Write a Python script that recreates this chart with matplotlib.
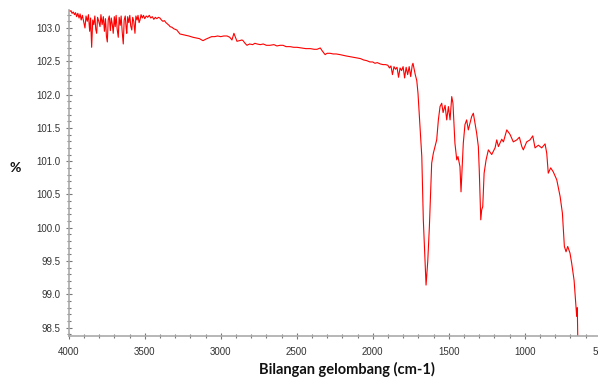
import matplotlib
matplotlib.use("Agg")
import matplotlib.pyplot as plt
from matplotlib.ticker import MultipleLocator

# ---- data (wavenumber cm-1, transmittance %) ----
wn_a = [4000, 3992, 3985, 3978, 3970, 3962, 3955, 3948, 3940, 3932, 3925, 3918, 3910, 3900,
        3893, 3886, 3878, 3870, 3862, 3856, 3849, 3842, 3835, 3828, 3822, 3816, 3810, 3802,
        3794, 3788, 3780, 3772, 3765, 3758, 3752, 3746, 3740, 3733, 3726, 3720, 3713, 3707,
        3700, 3694, 3688, 3681, 3674, 3668, 3661, 3655, 3648, 3641, 3635, 3628, 3622, 3618,
        3612, 3605, 3598, 3592, 3585, 3579, 3572, 3564, 3558, 3550, 3544, 3537, 3531, 3524,
        3516, 3508, 3500, 3490, 3480, 3470, 3460, 3450, 3440, 3430, 3420, 3410, 3400, 3390,
        3380, 3370, 3360, 3350, 3340, 3333, 3320, 3310, 3300]
t_a = [103.27, 103.25, 103.26, 103.22, 103.24, 103.20, 103.23, 103.17, 103.22, 103.15, 103.21,
       103.12, 103.19, 103.08, 103.00, 103.18, 103.10, 103.20, 102.95, 103.15, 102.71, 103.12,
       103.05, 103.18, 102.98, 102.92, 103.16, 103.10, 103.02, 103.20, 103.05, 103.17, 102.95,
       103.14, 102.88, 102.79, 103.12, 103.18, 102.96, 103.15, 103.05, 102.92, 103.17, 103.02,
       103.19, 102.98, 102.86, 103.16, 103.04, 103.18, 102.94, 102.76, 103.12, 103.18, 103.00,
       102.92, 103.17, 103.08, 103.19, 103.03, 102.97, 103.16, 103.10, 102.92, 103.18, 103.12,
       103.19, 103.08, 103.12, 103.20, 103.15, 103.19, 103.14, 103.18, 103.16, 103.19, 103.15,
       103.17, 103.13, 103.16, 103.14, 103.16, 103.15, 103.12, 103.10, 103.11, 103.08, 103.06,
       103.04, 103.02, 103.01, 102.99, 102.98]

wn_b = [3289, 3275, 3268, 3250, 3230, 3210, 3195, 3182, 3160, 3140, 3125, 3116, 3100, 3080,
        3060, 3040, 3020, 3000, 2980, 2958, 2940, 2926, 2913, 2900, 2893, 2875, 2860, 2853,
        2840, 2827, 2810, 2790, 2775, 2761, 2740, 2720, 2700, 2676, 2650, 2630, 2610, 2590,
        2570, 2544, 2520, 2498, 2470, 2440, 2410, 2385, 2366, 2345, 2330, 2313, 2300, 2280,
        2260, 2240, 2215, 2195, 2175, 2150, 2125, 2103, 2080, 2060, 2040, 2018, 2000, 1985,
        1970, 1950, 1932, 1915]
t_b = [102.97, 102.93, 102.91, 102.90, 102.89, 102.88, 102.87, 102.86, 102.85, 102.84, 102.82,
       102.81, 102.83, 102.85, 102.87, 102.87, 102.88, 102.87, 102.88, 102.88, 102.86, 102.82,
       102.92, 102.84, 102.80, 102.81, 102.82, 102.81, 102.77, 102.74, 102.76, 102.75, 102.77,
       102.76, 102.75, 102.76, 102.74, 102.74, 102.75, 102.73, 102.74, 102.74, 102.72, 102.72,
       102.71, 102.71, 102.70, 102.69, 102.69, 102.68, 102.68, 102.70, 102.65, 102.60, 102.62,
       102.62, 102.61, 102.61, 102.60, 102.59, 102.58, 102.57, 102.56, 102.55, 102.54, 102.52,
       102.51, 102.49, 102.49, 102.47, 102.48, 102.46, 102.45, 102.45]

wn_c = [1900, 1890, 1880, 1870, 1860, 1850, 1840, 1830, 1820, 1810, 1800, 1790, 1780, 1770,
        1760, 1750, 1740, 1735, 1720, 1710, 1702]
t_c = [102.44, 102.40, 102.43, 102.30, 102.42, 102.38, 102.41, 102.26, 102.40, 102.36, 102.42,
       102.25, 102.41, 102.30, 102.42, 102.27, 102.44, 102.47, 102.30, 102.21, 102.02]

wn_d = [1677, 1667, 1656, 1649, 1638, 1627, 1612, 1601, 1579, 1568, 1557, 1546, 1537, 1524,
        1513, 1502, 1491, 1480, 1472, 1459, 1447, 1439, 1426, 1419, 1404, 1393, 1382, 1371,
        1360, 1349, 1338, 1327, 1316, 1305, 1299, 1289, 1283, 1276, 1267, 1254, 1239, 1217,
        1195, 1184, 1173, 1151, 1140, 1118, 1096, 1075, 1052, 1035, 1019, 1009, 987, 965,
        947, 932, 910, 888, 866, 855, 845, 829, 812, 789, 767, 752, 739, 728, 717, 702, 691,
        675, 669, 662, 658, 654, 651]
t_d = [101.07, 100.12, 99.52, 99.14, 99.49, 100.02, 100.97, 101.12, 101.32, 101.62, 101.82,
       101.87, 101.73, 101.84, 101.62, 101.82, 101.62, 101.97, 101.87, 101.27, 101.02, 101.07,
       100.92, 100.54, 101.27, 101.55, 101.62, 101.47, 101.57, 101.67, 101.72, 101.57, 101.42,
       101.22, 100.87, 100.12, 100.27, 100.32, 100.82, 101.02, 101.17, 101.10, 101.20, 101.32,
       101.22, 101.33, 101.29, 101.47, 101.40, 101.29, 101.32, 101.36, 101.22, 101.17, 101.29,
       101.32, 101.38, 101.20, 101.24, 101.20, 101.26, 101.12, 100.82, 100.90, 100.84, 100.72,
       100.47, 100.22, 99.72, 99.64, 99.72, 99.62, 99.47, 99.21, 99.02, 98.82, 98.67, 98.80,
       98.38]

wavenumber = wn_a + wn_b + wn_c + wn_d
transmittance = t_a + t_b + t_c + t_d

x_label = "Bilangan gelombang (cm-1)"
y_label = "%"

# ---- figure ----
fig = plt.figure(figsize=(5.98, 3.80), dpi=100)
ax = fig.add_axes([68.7 / 598, 1 - 335.7 / 380, 532 / 598, (335.7 - 10) / 380])
ax.plot(wavenumber, transmittance, color="#ff0000", lw=0.8)

ax.set_xlim(4000, 500)
ax.set_ylim(98.38, 103.27)

ax.xaxis.set_major_locator(MultipleLocator(500))
ax.xaxis.set_minor_locator(MultipleLocator(100))
ax.yaxis.set_major_locator(MultipleLocator(0.5))
ax.yaxis.set_minor_locator(MultipleLocator(0.1))
ax.xaxis.set_major_formatter(plt.FuncFormatter(lambda v, p: f"{int(v)}"))
ax.yaxis.set_major_formatter(plt.FuncFormatter(lambda v, p: f"{v:.1f}"))

for s in ["top", "right"]:
    ax.spines[s].set_visible(False)
for s in ["left", "bottom"]:
    ax.spines[s].set_color("#aaaaaa")
    ax.spines[s].set_linewidth(1.2)

tick_font = ["Liberation Sans Narrow", "Liberation Sans", "DejaVu Sans"]
ax.tick_params(which="major", direction="inout", length=4, width=0.8, color="#777777",
               labelsize=7, labelcolor="#333333")
ax.tick_params(which="minor", direction="inout", length=2.5, width=0.8, color="#777777")
ax.tick_params(axis="y", pad=4)
ax.tick_params(axis="x", pad=6)
for lab in ax.get_xticklabels() + ax.get_yticklabels():
    lab.set_family(tick_font)

fig.text(347 / 598, 1 - 369 / 380, x_label, ha="center", va="center",
         fontsize=10.5, fontweight="bold", family=["Lato", "DejaVu Sans"], color="#111111")
fig.text(15 / 598, 1 - 168 / 380, y_label, ha="center", va="center",
         fontsize=10, fontweight="bold", family=["Lato", "DejaVu Sans"], color="#111111")

fig.savefig("out.png", dpi=100)
